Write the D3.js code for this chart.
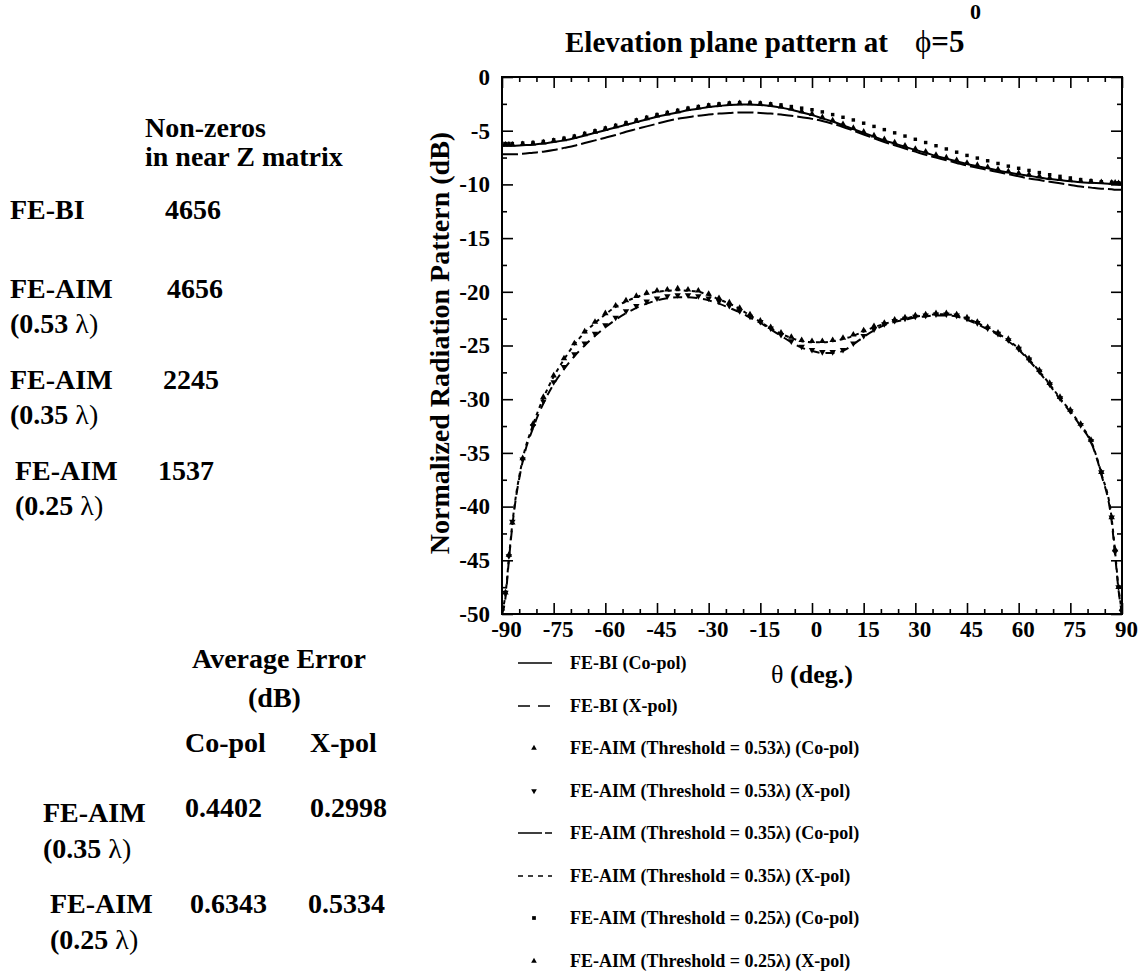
<!DOCTYPE html>
<html>
<head>
<meta charset="utf-8">
<script src="https://cdn.jsdelivr.net/npm/d3@7"></script>
<style>
  body { margin: 0; background: #fff; }
  text { font-family: "Liberation Serif", "Times New Roman", serif; font-weight: bold; fill: #000; }
  .greek { font-weight: normal; }
</style>
</head>
<body>
<div id="chart"></div>
<script>
// theta grid (deg.) shared by every series
const theta = [-90, -89, -88, -87,
  -84, -81, -78, -75, -72, -69, -66, -63,
  -60, -57, -54, -51, -48, -45, -42, -39,
  -36, -33, -30, -27, -24, -21, -18, -15,
  -12, -9, -6, -3, 0,
  3, 6, 9, 12, 15, 18, 21, 24,
  27, 30, 33, 36, 39, 42, 45, 48,
  51, 54, 57, 60, 63, 66, 69, 72,
  75, 78, 81, 84, 87, 88, 89, 90];

// co-pol (dB)
const feBiCo = [-6.4, -6.4, -6.4, -6.4,
  -6.35, -6.3, -6.2, -6.05, -5.9, -5.7, -5.45, -5.2,
  -4.95, -4.7, -4.45, -4.2, -3.95, -3.7, -3.5, -3.3,
  -3.1, -2.95, -2.8, -2.7, -2.6, -2.55, -2.55, -2.6,
  -2.7, -2.85, -3.05, -3.3, -3.55,
  -3.85, -4.15, -4.5, -4.85, -5.2, -5.55, -5.9, -6.2,
  -6.5, -6.8, -7.05, -7.35, -7.6, -7.85, -8.1, -8.3,
  -8.5, -8.7, -8.9, -9.05, -9.2, -9.35, -9.5, -9.6,
  -9.7, -9.8, -9.85, -9.9, -9.95, -9.95, -10.0, -10.0];
const aim53Co = [-6.3, -6.3, -6.3, -6.3,
  -6.25, -6.2, -6.1, -5.95, -5.8, -5.6, -5.35, -5.1,
  -4.85, -4.6, -4.35, -4.1, -3.85, -3.6, -3.4, -3.2,
  -3.0, -2.85, -2.7, -2.6, -2.5, -2.45, -2.45, -2.5,
  -2.6, -2.75, -2.95, -3.2, -3.45,
  -3.75, -4.05, -4.4, -4.75, -5.1, -5.45, -5.8, -6.1,
  -6.4, -6.7, -6.95, -7.25, -7.5, -7.75, -8.0, -8.2,
  -8.4, -8.6, -8.8, -8.95, -9.1, -9.25, -9.4, -9.5,
  -9.6, -9.7, -9.75, -9.8, -9.85, -9.85, -9.9, -9.9];
const aim35Co = [-7.2, -7.2, -7.2, -7.2,
  -7.15, -7.05, -6.95, -6.8, -6.6, -6.4, -6.15, -5.9,
  -5.65, -5.4, -5.1, -4.85, -4.6, -4.35, -4.1, -3.9,
  -3.75, -3.6, -3.5, -3.4, -3.35, -3.3, -3.3, -3.35,
  -3.4, -3.5, -3.6, -3.75, -3.9,
  -4.1, -4.35, -4.65, -5.0, -5.35, -5.7, -6.05, -6.35,
  -6.65, -6.95, -7.25, -7.5, -7.75, -8.0, -8.25, -8.45,
  -8.65, -8.85, -9.05, -9.25, -9.45, -9.6, -9.75, -9.9,
  -10.05, -10.2, -10.3, -10.4, -10.45, -10.5, -10.5, -10.5];
const aim25Co = [-6.2, -6.2, -6.2, -6.2,
  -6.15, -6.1, -6.0, -5.85, -5.7, -5.5, -5.25, -5.0,
  -4.75, -4.5, -4.25, -4.0, -3.75, -3.5, -3.3, -3.1,
  -2.9, -2.75, -2.6, -2.5, -2.42, -2.38, -2.38, -2.42,
  -2.5, -2.6, -2.75, -2.9, -3.05,
  -3.25, -3.5, -3.75, -4.0, -4.3, -4.6, -4.9, -5.2,
  -5.5, -5.8, -6.1, -6.4, -6.7, -7.0, -7.3, -7.55,
  -7.8, -8.05, -8.3, -8.5, -8.7, -8.9, -9.1, -9.25,
  -9.4, -9.55, -9.65, -9.75, -9.8, -9.85, -9.85, -9.9];

// x-pol (dB)
const feBiX = [-50, -48.5, -45, -41.8,
  -35.8, -32.7, -30.4, -28.6, -27.2, -26.0, -25.0, -24.1,
  -23.3, -22.6, -22.0, -21.5, -21.1, -20.8, -20.6, -20.5,
  -20.5, -20.6, -20.8, -21.1, -21.5, -21.9, -22.4, -22.9,
  -23.5, -24.1, -24.7, -25.2, -25.5,
  -25.7, -25.7, -25.5, -24.9, -24.2, -23.6, -23.1, -22.8,
  -22.6, -22.4, -22.3, -22.2, -22.2, -22.3, -22.6, -23.0,
  -23.5, -24.0, -24.6, -25.4, -26.4, -27.5, -28.7, -30.0,
  -31.2, -32.5, -34.0, -37.0, -41.4, -44.5, -47.8, -50];
const aim53X = [-49.5, -48, -44.6, -41.4,
  -35.6, -32.5, -30.2, -28.4, -27.0, -25.8, -24.8, -23.9,
  -23.1, -22.4, -21.8, -21.3, -20.9, -20.6, -20.4, -20.3,
  -20.3, -20.4, -20.6, -20.9, -21.3, -21.8, -22.3, -22.8,
  -23.4, -24.0, -24.6, -25.1, -25.4,
  -25.6, -25.6, -25.4, -24.8, -24.1, -23.5, -23.0, -22.7,
  -22.5, -22.3, -22.2, -22.1, -22.1, -22.2, -22.5, -22.9,
  -23.4, -23.9, -24.5, -25.3, -26.3, -27.4, -28.6, -29.9,
  -31.1, -32.4, -33.9, -36.8, -41.0, -44.2, -47.5, -49.8];
const aim35X = [-49.8, -48.2, -44.8, -41.6,
  -35.6, -32.4, -29.9, -27.9, -26.3, -24.9, -23.8, -22.9,
  -22.1, -21.4, -20.9, -20.5, -20.2, -20.0, -19.9, -19.85,
  -19.9, -20.0, -20.3, -20.7, -21.1, -21.6, -22.2, -22.8,
  -23.4, -23.9, -24.3, -24.6, -24.7,
  -24.7, -24.6, -24.4, -24.1, -23.7, -23.3, -23.0, -22.7,
  -22.5, -22.3, -22.2, -22.1, -22.1, -22.2, -22.5, -22.9,
  -23.4, -23.9, -24.5, -25.3, -26.3, -27.4, -28.6, -29.9,
  -31.1, -32.4, -33.9, -36.9, -41.1, -44.2, -47.6, -49.8];
const aim25X = [-49.5, -48, -44.5, -41.5,
  -35.5, -32.3, -29.8, -27.8, -26.2, -24.8, -23.7, -22.8,
  -22.0, -21.3, -20.8, -20.4, -20.1, -19.9, -19.8, -19.7,
  -19.8, -19.9, -20.2, -20.6, -21.0, -21.5, -22.1, -22.7,
  -23.3, -23.8, -24.2, -24.5, -24.6,
  -24.6, -24.5, -24.3, -24.0, -23.6, -23.2, -22.9, -22.6,
  -22.4, -22.2, -22.1, -22.0, -22.0, -22.1, -22.4, -22.8,
  -23.3, -23.8, -24.4, -25.2, -26.2, -27.3, -28.5, -29.8,
  -31.0, -32.3, -33.8, -36.8, -41.0, -44.0, -47.5, -49.5];

const legendLabels = [
  "FE-BI (Co-pol)",
  "FE-BI (X-pol)",
  "FE-AIM (Threshold = 0.53\u03bb) (Co-pol)",
  "FE-AIM (Threshold = 0.53\u03bb) (X-pol)",
  "FE-AIM (Threshold = 0.35\u03bb) (Co-pol)",
  "FE-AIM (Threshold = 0.35\u03bb) (X-pol)",
  "FE-AIM (Threshold = 0.25\u03bb) (Co-pol)",
  "FE-AIM (Threshold = 0.25\u03bb) (X-pol)"
];
const xTicks = [-90, -75, -60, -45, -30, -15, 0, 15, 30, 45, 60, 75, 90];
const yTicks = [0, -5, -10, -15, -20, -25, -30, -35, -40, -45, -50];

// side tables
const nzMethods = ["FE-BI", "FE-AIM", "FE-AIM", "FE-AIM"];
const nzThresholds = [null, "0.53", "0.35", "0.25"];
const nzCounts = ["4656", "4656", "2245", "1537"];
const errThresholds = ["0.35", "0.25"];
const errCoPol = ["0.4402", "0.6343"];
const errXPol = ["0.2998", "0.5334"];

const series = [
  { values: feBiCo, kind: "line", dash: null, legendDash: null },
  { values: feBiX, kind: "line", dash: "9,6", legendDash: "12,8" },
  { values: aim53Co, kind: "mark", symbol: d3.symbolTriangle, rot: 0, size: 18 },
  { values: aim53X, kind: "mark", symbol: d3.symbolTriangle, rot: 180, size: 18 },
  { values: aim35Co, kind: "line", dash: "16,4", legendDash: "24,3" },
  { values: aim35X, kind: "line", dash: "4,4", legendDash: "5,5" },
  { values: aim25Co, kind: "mark", symbol: d3.symbolSquare, rot: 0, size: 12 },
  { values: aim25X, kind: "mark", symbol: d3.symbolTriangle, rot: 0, size: 18 }
];

const width = 1147, height = 974;
const plotLeft = 502, plotRight = 1122, plotTop = 77, plotBottom = 614;

const svg = d3.select("#chart").append("svg")
  .attr("width", width)
  .attr("height", height);

const x = d3.scaleLinear().domain([-90, 90]).range([plotLeft, plotRight]);
const y = d3.scaleLinear().domain([-50, 0]).range([plotBottom, plotTop]);

const minorX = d3.range(-90, 91, 5).filter(d => d % 15 !== 0);
const minorY = d3.range(-50, 0.1, 2.5).filter(d => d % 5 !== 0);
const hyphen = d => String(d);

function styleAxis(g) {
  g.select(".domain").remove();
  g.selectAll(".tick line").attr("stroke", "#000").attr("stroke-width", 1.6);
}
function styleLabels(g) {
  g.selectAll("text").attr("font-size", 23)
    .style("font-family", "'Liberation Serif', serif").style("font-weight", "bold");
}

// bottom axis with labels
svg.append("g")
  .attr("transform", `translate(0,${plotBottom})`)
  .call(d3.axisBottom(x).tickValues(xTicks).tickSize(-11).tickPadding(7).tickFormat(hyphen))
  .call(styleAxis)
  .call(styleLabels)
  .call(g => g.selectAll("text").attr("dx", 4));
svg.append("g")
  .attr("transform", `translate(0,${plotBottom})`)
  .call(d3.axisBottom(x).tickValues(minorX).tickSize(-5).tickFormat(""))
  .call(styleAxis);

// top axis
svg.append("g")
  .attr("transform", `translate(0,${plotTop})`)
  .call(d3.axisTop(x).tickValues(xTicks).tickSize(-11).tickFormat(""))
  .call(styleAxis);
svg.append("g")
  .attr("transform", `translate(0,${plotTop})`)
  .call(d3.axisTop(x).tickValues(minorX).tickSize(-5).tickFormat(""))
  .call(styleAxis);

// left axis with labels
svg.append("g")
  .attr("transform", `translate(${plotLeft},0)`)
  .call(d3.axisLeft(y).tickValues(yTicks).tickSize(-11).tickPadding(12).tickFormat(hyphen))
  .call(styleAxis)
  .call(styleLabels);
svg.append("g")
  .attr("transform", `translate(${plotLeft},0)`)
  .call(d3.axisLeft(y).tickValues(minorY).tickSize(-5).tickFormat(""))
  .call(styleAxis);

// right axis
svg.append("g")
  .attr("transform", `translate(${plotRight},0)`)
  .call(d3.axisRight(y).tickValues(yTicks).tickSize(-11).tickFormat(""))
  .call(styleAxis);
svg.append("g")
  .attr("transform", `translate(${plotRight},0)`)
  .call(d3.axisRight(y).tickValues(minorY).tickSize(-5).tickFormat(""))
  .call(styleAxis);

// frame
svg.append("rect")
  .attr("x", plotLeft).attr("y", plotTop)
  .attr("width", plotRight - plotLeft).attr("height", plotBottom - plotTop)
  .attr("fill", "none").attr("stroke", "#000").attr("stroke-width", 2);

svg.append("clipPath").attr("id", "plotclip")
  .append("rect")
  .attr("x", plotLeft).attr("y", plotTop - 2)
  .attr("width", plotRight - plotLeft).attr("height", plotBottom - plotTop + 2);

const plot = svg.append("g").attr("clip-path", "url(#plotclip)");

const line = d3.line()
  .x((d, i) => x(theta[i]))
  .y(d => y(d))
  .curve(d3.curveMonotoneX);

series.forEach(s => {
  if (s.kind === "line") {
    plot.append("path")
      .datum(s.values)
      .attr("d", line)
      .attr("fill", "none")
      .attr("stroke", "#000")
      .attr("stroke-width", 2)
      .attr("stroke-dasharray", s.dash);
  } else {
    plot.append("g")
      .selectAll("path")
      .data(s.values)
      .join("path")
      .attr("d", d3.symbol().type(s.symbol).size(s.size))
      .attr("transform", (d, i) => `translate(${x(theta[i])},${y(d)}) rotate(${s.rot})`)
      .attr("fill", "#000");
  }
});

// titles
svg.append("text")
  .attr("x", 565).attr("y", 52)
  .attr("font-size", 29)
  .text("Elevation plane pattern at");
svg.append("text")
  .attr("x", 915).attr("y", 52)
  .attr("font-size", 31)
  .call(t => t.append("tspan").attr("class", "greek").text("\u03d5"))
  .call(t => t.append("tspan").text("=5"));
svg.append("text")
  .attr("x", 970).attr("y", 19)
  .attr("font-size", 22)
  .text("0");

svg.append("text")
  .attr("transform", "translate(449,343) rotate(-90)")
  .attr("text-anchor", "middle")
  .attr("font-size", 28)
  .text("Normalized Radiation Pattern (dB)");

svg.append("text")
  .attr("x", 812).attr("y", 683)
  .attr("text-anchor", "middle")
  .attr("font-size", 26)
  .call(t => t.append("tspan").attr("class", "greek").text("\u03b8"))
  .call(t => t.append("tspan").text(" (deg.)"));

// legend
const legendY = [663, 706, 748, 791, 833, 876, 918, 961];
const legend = svg.append("g");
series.forEach((s, i) => {
  const ly = legendY[i];
  if (s.kind === "line") {
    legend.append("line")
      .attr("x1", 518).attr("x2", 552)
      .attr("y1", ly).attr("y2", ly)
      .attr("stroke", "#000").attr("stroke-width", 1.6)
      .attr("stroke-dasharray", s.legendDash);
  } else {
    legend.append("path")
      .attr("d", d3.symbol().type(s.symbol).size(14))
      .attr("transform", `translate(534,${ly}) rotate(${s.rot})`)
      .attr("fill", "#000");
  }
  legend.append("text")
    .attr("x", 570).attr("y", ly + 6)
    .attr("font-size", 18)
    .text(legendLabels[i]);
});

// non-zeros table
function lambdaLabel(g, xx, yy, thr) {
  g.append("text")
    .attr("x", xx).attr("y", yy)
    .attr("font-size", 28)
    .call(t => t.append("tspan").text(`(${thr} `))
    .call(t => t.append("tspan").attr("class", "greek").text("\u03bb"))
    .call(t => t.append("tspan").attr("class", "greek").text(")"));
}

const side = svg.append("g");
side.append("text").attr("x", 145).attr("y", 137).attr("font-size", 28).text("Non-zeros");
side.append("text").attr("x", 145).attr("y", 166).attr("font-size", 28).text("in near Z matrix");

const nzY = [219, 298, 389, 480];
const nzMx = [10, 10, 10, 15];
const nzCx = [165, 167, 163, 158];
nzMethods.forEach((m, i) => {
  side.append("text").attr("x", nzMx[i]).attr("y", nzY[i]).attr("font-size", 28).text(m);
  side.append("text").attr("x", nzCx[i]).attr("y", nzY[i]).attr("font-size", 28).text(nzCounts[i]);
  if (nzThresholds[i]) lambdaLabel(side, nzMx[i], nzY[i] + 35, nzThresholds[i]);
});

// average error table
side.append("text").attr("x", 192).attr("y", 668).attr("font-size", 28).text("Average Error");
side.append("text").attr("x", 248).attr("y", 707).attr("font-size", 28).text("(dB)");
side.append("text").attr("x", 185).attr("y", 752).attr("font-size", 28).text("Co-pol");
side.append("text").attr("x", 310).attr("y", 752).attr("font-size", 28).text("X-pol");

const errMy = [822, 913];
const errVy = [817, 913];
const errMx = [43, 50];
const errCx = [185, 190];
const errXx = [310, 308];
errThresholds.forEach((thr, i) => {
  side.append("text").attr("x", errMx[i]).attr("y", errMy[i]).attr("font-size", 28).text("FE-AIM");
  lambdaLabel(side, errMx[i], errMy[i] + 36, thr);
  side.append("text").attr("x", errCx[i]).attr("y", errVy[i]).attr("font-size", 28).text(errCoPol[i]);
  side.append("text").attr("x", errXx[i]).attr("y", errVy[i]).attr("font-size", 28).text(errXPol[i]);
});
</script>
</body>
</html>
